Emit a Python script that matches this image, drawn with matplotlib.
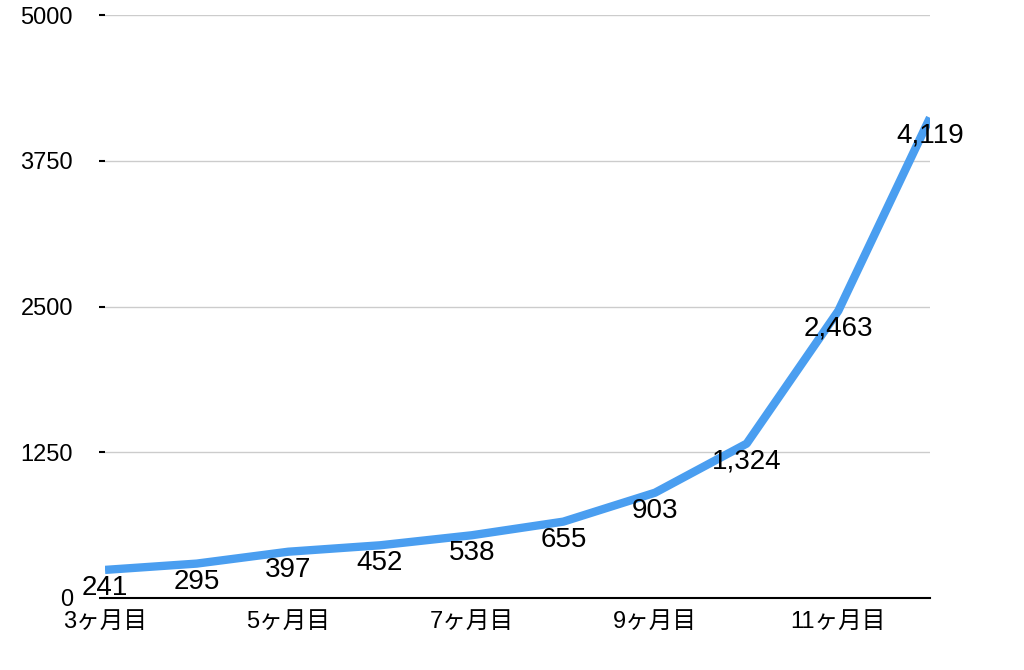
import matplotlib.pyplot as plt

plt.rcParams['font.family'] = ['Liberation Sans', 'Noto Sans CJK JP']

months = ['3ヶ月目', '4ヶ月目', '5ヶ月目', '6ヶ月目', '7ヶ月目',
          '8ヶ月目', '9ヶ月目', '10ヶ月目', '11ヶ月目', '12ヶ月目']
values = [241, 295, 397, 452, 538, 655, 903, 1324, 2463, 4119]
yticks = [0, 1250, 2500, 3750, 5000]

fig = plt.figure(figsize=(10.24, 6.7), dpi=100)
ax = fig.add_axes([105 / 1024, 1 - 598 / 670, 825 / 1024, 583 / 670])

x = list(range(len(values)))
ax.plot(x, values, color='#4a9ef0', linewidth=6, solid_capstyle='butt', zorder=3)

for xi, v in zip(x, values):
    ax.annotate(f'{v:,}', (xi, v), xytext=(0, -13), textcoords='offset points',
                ha='center', va='center', fontsize=20, color='black', zorder=4)

ax.set_xlim(0, len(values) - 1)
ax.set_ylim(0, 5000)
ax.set_yticks(yticks)
ax.set_yticklabels([str(t) for t in yticks], fontsize=17)
ax.set_xticks(x[::2])
ax.set_xticklabels(months[::2], fontsize=17)
ax.tick_params(axis='x', length=0, pad=9)
ax.tick_params(axis='y', length=4, width=1.5, pad=19, color='black')

ax.grid(axis='y', color='#cccccc', linewidth=1)
ax.set_axisbelow(True)
for s in ['left', 'right', 'top']:
    ax.spines[s].set_visible(False)
ax.spines['bottom'].set_color('black')
ax.spines['bottom'].set_linewidth(1.5)

fig.savefig('out.png', dpi=100)
